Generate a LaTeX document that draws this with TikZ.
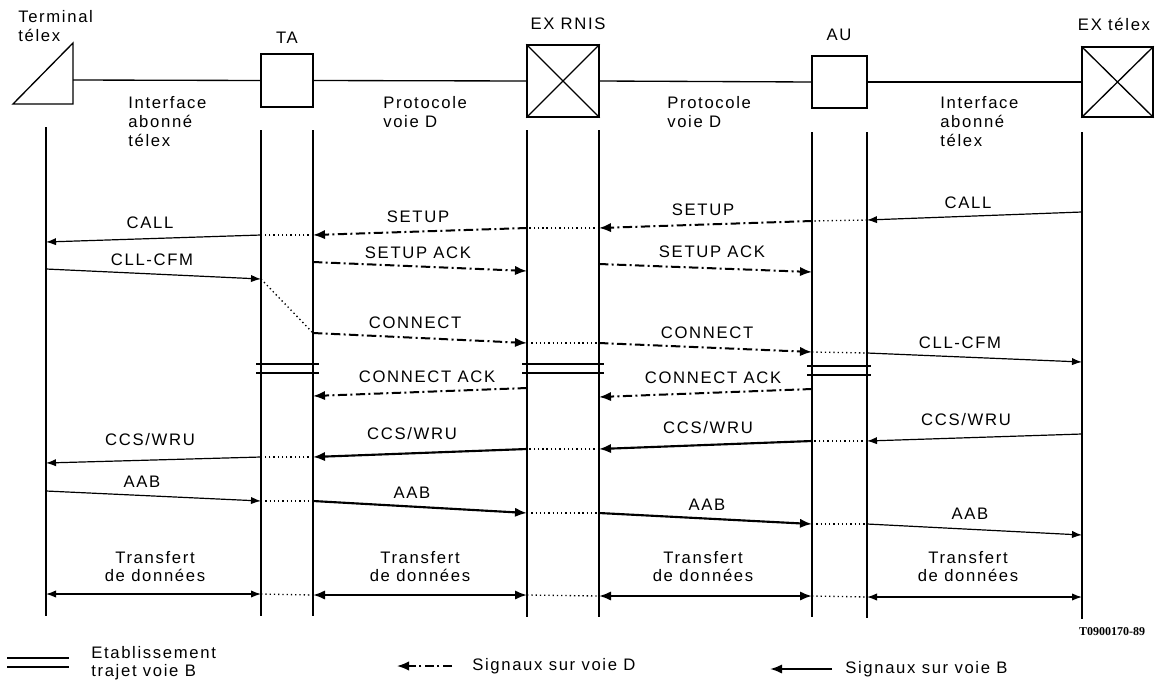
\documentclass[tikz,border=0pt]{standalone}
\usepackage{fontspec}
\setmainfont{Liberation Sans}[LetterSpace=10]
\newfontfamily\codefont{Liberation Serif}[Scale=1.0]
\usetikzlibrary{arrows.meta}
\tikzset{
  life/.style={line width=0.9pt},
  boxline/.style={line width=1pt},
  sig/.style={line width=0.9pt,-{Latex[length=7.5pt,width=5.5pt]}},
  sigboth/.style={line width=0.9pt,{Latex[length=7.5pt,width=5.5pt]}-{Latex[length=7.5pt,width=5.5pt]}},
  sigB/.style={line width=1.6pt,-{Latex[length=9pt,width=7pt]}},
  sigBboth/.style={line width=1.6pt,{Latex[length=9pt,width=7pt]}-{Latex[length=9pt,width=7pt]}},
  sigD/.style={line width=1.5pt,dash pattern=on 7pt off 2.5pt on 1.5pt off 2.5pt,-{Latex[length=9pt,width=7pt]}},
  dots/.style={line width=1pt,dash pattern=on 1pt off 2.2pt},
  bpath/.style={line width=1.2pt},
  lbl/.style={font=\fontsize{12.5}{14}\selectfont,inner sep=0pt},
  codelbl/.style={font=\codefont\bfseries\fontsize{9}{10}\selectfont,inner sep=0pt},
}
\begin{document}
\begin{tikzpicture}[x=0.75pt,y=-0.75pt]
\useasboundingbox (0,0) rectangle (1159,682);

% ---------- top entities ----------
\path (13,104) coordinate (tri1) (73,43) coordinate (tri2) (73,104) coordinate (tri3)
      (73,80) coordinate (tri4);
\draw[boxline] (tri1) -- (tri2) -- (tri3) -- cycle;
\node[lbl,anchor=base west] (termA) at (18,22) {Terminal};
\node[lbl,anchor=base west] (termB) at (18,41) {télex};

\node[boxline,draw,minimum width=39pt,minimum height=39.75pt,inner sep=0pt] (ta) at (287,80.5) {};
\node[lbl] (taL) at (287,38) {TA};

\node[boxline,draw,minimum width=54pt,minimum height=54pt,inner sep=0pt] (rnis) at (563,81) {};
\draw[boxline] (rnis.north west) -- (rnis.south east) (rnis.north east) -- (rnis.south west);
\node[lbl] (rnisL) at (568,24) {EX RNIS};

\node[boxline,draw,minimum width=41.25pt,minimum height=39pt,inner sep=0pt] (au) at (839.5,82) {};
\node[lbl] (auL) at (839,35) {AU};

\node[boxline,draw,minimum width=53.25pt,minimum height=52.5pt,inner sep=0pt] (ex) at (1117.5,82) {};
\draw[boxline] (ex.north west) -- (ex.south east) (ex.north east) -- (ex.south west);
\node[lbl,anchor=base] (exL) at (1114,30) {EX télex};

\draw[boxline] (tri4) -- (ta.west);
\draw[boxline] (ta.east) -- (rnis.west);
\draw[boxline] (rnis.east) -- (au.west);
\draw[boxline] (au.east) -- (ex.west);

\node[lbl,anchor=base west] (if1a) at (128,108) {Interface};
\node[lbl,anchor=base west] (if1b) at (128,127) {abonné};
\node[lbl,anchor=base west] (if1c) at (128,146) {télex};
\node[lbl,anchor=base west] (pr1a) at (383,108) {Protocole};
\node[lbl,anchor=base west] (pr1b) at (383,127) {voie D};
\node[lbl,anchor=base west] (pr2a) at (667,108) {Protocole};
\node[lbl,anchor=base west] (pr2b) at (667,127) {voie D};
\node[lbl,anchor=base west] (if2a) at (940,108) {Interface};
\node[lbl,anchor=base west] (if2b) at (940,127) {abonné};
\node[lbl,anchor=base west] (if2c) at (940,146) {télex};

% ---------- lifelines ----------
\path (46,127) coordinate (L0t) (46,616) coordinate (L0b)
      (261,130) coordinate (L1t) (261,616) coordinate (L1b)
      (313,130) coordinate (L2t) (313,616) coordinate (L2b)
      (527,130) coordinate (L3t) (527,617) coordinate (L3b)
      (599,130) coordinate (L4t) (599,617) coordinate (L4b)
      (812,132) coordinate (L5t) (812,617) coordinate (L5b)
      (867,132) coordinate (L6t) (867,618) coordinate (L6b)
      (1082,132) coordinate (L7t) (1082,619) coordinate (L7b);
\foreach \i in {0,...,7} \draw[life] (L\i t) -- (L\i b);

% ---------- row 1 : CALL / SETUP ----------
\path (1082,212) coordinate (a0) (867,220) coordinate (a1) (812,221) coordinate (a2)
      (599,228) coordinate (a3) (527,228) coordinate (a4) (313,235) coordinate (a5)
      (261,235) coordinate (a6) (46,242) coordinate (a7);
\draw[sig] (a0) -- (a1);
\draw[dots] (a1) -- (a2);
\draw[sigD] (a2) -- (a3);
\draw[dots] (a3) -- (a4);
\draw[sigD] (a4) -- (a5);
\draw[dots] (a5) -- (a6);
\draw[sig] (a6) -- (a7);
\node[lbl] (m1) at (968,203) {CALL};
\node[lbl] (m2) at (703,210) {SETUP};
\node[lbl] (m3) at (418,217) {SETUP};
\node[lbl] (m4) at (150,223) {CALL};

% ---------- row 2 : SETUP ACK / CLL-CFM ----------
\path (313,262) coordinate (b0) (527,271) coordinate (b1)
      (599,264) coordinate (b2) (812,272) coordinate (b3)
      (46,269) coordinate (b4) (261,279) coordinate (b5);
\draw[sigD] (b0) -- (b1);
\draw[sigD] (b2) -- (b3);
\draw[sig] (b4) -- (b5);
\node[lbl] (m5) at (418,253) {SETUP ACK};
\node[lbl] (m6) at (712,252) {SETUP ACK};
\node[lbl] (m7) at (152,260) {CLL-CFM};

% ---------- row 3 : CONNECT / CLL-CFM ----------
\path (313,333) coordinate (c0) (527,343) coordinate (c1) (599,343) coordinate (c2)
      (812,352) coordinate (c3) (867,353) coordinate (c4) (1082,362) coordinate (c5);
\draw[dots] (b5) -- (c0);
\draw[sigD] (c0) -- (c1);
\draw[dots] (c1) -- (c2);
\draw[sigD] (c2) -- (c3);
\draw[dots] (c3) -- (c4);
\draw[sig] (c4) -- (c5);
\node[lbl] (m8) at (415,323) {CONNECT};
\node[lbl] (m9) at (707,333) {CONNECT};
\node[lbl] (m10) at (960,343) {CLL-CFM};

% ---------- B-path establishment ----------
\path (256,364) coordinate (p0) (319,364) coordinate (p1) (256,373) coordinate (p2) (319,373) coordinate (p3)
      (522,364) coordinate (p4) (604,364) coordinate (p5) (522,373) coordinate (p6) (604,373) coordinate (p7)
      (807,366) coordinate (p8) (871,366) coordinate (p9) (807,375) coordinate (p10) (871,375) coordinate (p11);
\draw[bpath] (p0) -- (p1) (p2) -- (p3) (p4) -- (p5) (p6) -- (p7) (p8) -- (p9) (p10) -- (p11);

% ---------- row 4 : CONNECT ACK ----------
\path (527,388) coordinate (d0) (313,396) coordinate (d1)
      (812,389) coordinate (d2) (599,397) coordinate (d3);
\draw[sigD] (d0) -- (d1);
\draw[sigD] (d2) -- (d3);
\node[lbl] (m11) at (427,377) {CONNECT ACK};
\node[lbl] (m12) at (713,378) {CONNECT ACK};

% ---------- row 5 : CCS/WRU ----------
\path (1082,434) coordinate (e0) (867,441) coordinate (e1) (812,441) coordinate (e2)
      (599,449) coordinate (e3) (527,449) coordinate (e4) (313,457) coordinate (e5)
      (261,457) coordinate (e6) (46,463) coordinate (e7);
\draw[sig] (e0) -- (e1);
\draw[dots] (e1) -- (e2);
\draw[sigB] (e2) -- (e3);
\draw[dots] (e3) -- (e4);
\draw[sigB] (e4) -- (e5);
\draw[dots] (e5) -- (e6);
\draw[sig] (e6) -- (e7);
\node[lbl] (m13) at (966,420) {CCS/WRU};
\node[lbl] (m14) at (708,428) {CCS/WRU};
\node[lbl] (m15) at (412,434) {CCS/WRU};
\node[lbl] (m16) at (150,440) {CCS/WRU};

% ---------- row 6 : AAB ----------
\path (46,491) coordinate (f0) (261,501) coordinate (f1) (313,501) coordinate (f2)
      (527,513) coordinate (f3) (599,513) coordinate (f4) (812,524) coordinate (f5)
      (867,524) coordinate (f6) (1082,535) coordinate (f7);
\draw[sig] (f0) -- (f1);
\draw[dots] (f1) -- (f2);
\draw[sigB] (f2) -- (f3);
\draw[dots] (f3) -- (f4);
\draw[sigB] (f4) -- (f5);
\draw[dots] (f5) -- (f6);
\draw[sig] (f6) -- (f7);
\node[lbl] (m17) at (142,482) {AAB};
\node[lbl] (m18) at (412,493) {AAB};
\node[lbl] (m19) at (707,505) {AAB};
\node[lbl] (m20) at (970,514) {AAB};

% ---------- row 7 : data transfer ----------
\path (46,594) coordinate (g0) (261,594) coordinate (g1) (313,595) coordinate (g2)
      (527,595) coordinate (g3) (599,596) coordinate (g4) (812,596) coordinate (g5)
      (867,597) coordinate (g6) (1082,597) coordinate (g7);
\draw[sigboth] (g0) -- (g1);
\draw[dots] (g1) -- (g2);
\draw[sigBboth] (g2) -- (g3);
\draw[dots] (g3) -- (g4);
\draw[sigBboth] (g4) -- (g5);
\draw[dots] (g5) -- (g6);
\draw[sigboth] (g6) -- (g7);
\foreach \n/\x in {t1/155,t2/420,t3/703,t4/968}{
  \node[lbl,anchor=base] (\n a) at (\x,563) {Transfert};
  \node[lbl,anchor=base] (\n b) at (\x,581) {de données};
}

\node[codelbl] (code) at (1112,632) {T0900170-89};

% ---------- legend ----------
\path (7,658) coordinate (k0) (69,658) coordinate (k1) (7,667) coordinate (k2) (69,667) coordinate (k3);
\draw[bpath] (k0) -- (k1) (k2) -- (k3);
\node[lbl,anchor=base west] (leg1a) at (91,658) {Etablissement};
\node[lbl,anchor=base west] (leg1b) at (91,676) {trajet voie B};

\path (452,666) coordinate (k4) (397,666) coordinate (k5);
\draw[sigD,line width=1.2pt] (k4) -- (k5);
\node[lbl,anchor=base west] (leg2) at (472,670) {Signaux sur voie D};

\path (832,669) coordinate (k6) (770,669) coordinate (k7);
\draw[sigB] (k6) -- (k7);
\node[lbl,anchor=base west] (leg3) at (845,673) {Signaux sur voie B};
\end{tikzpicture}
\end{document}
